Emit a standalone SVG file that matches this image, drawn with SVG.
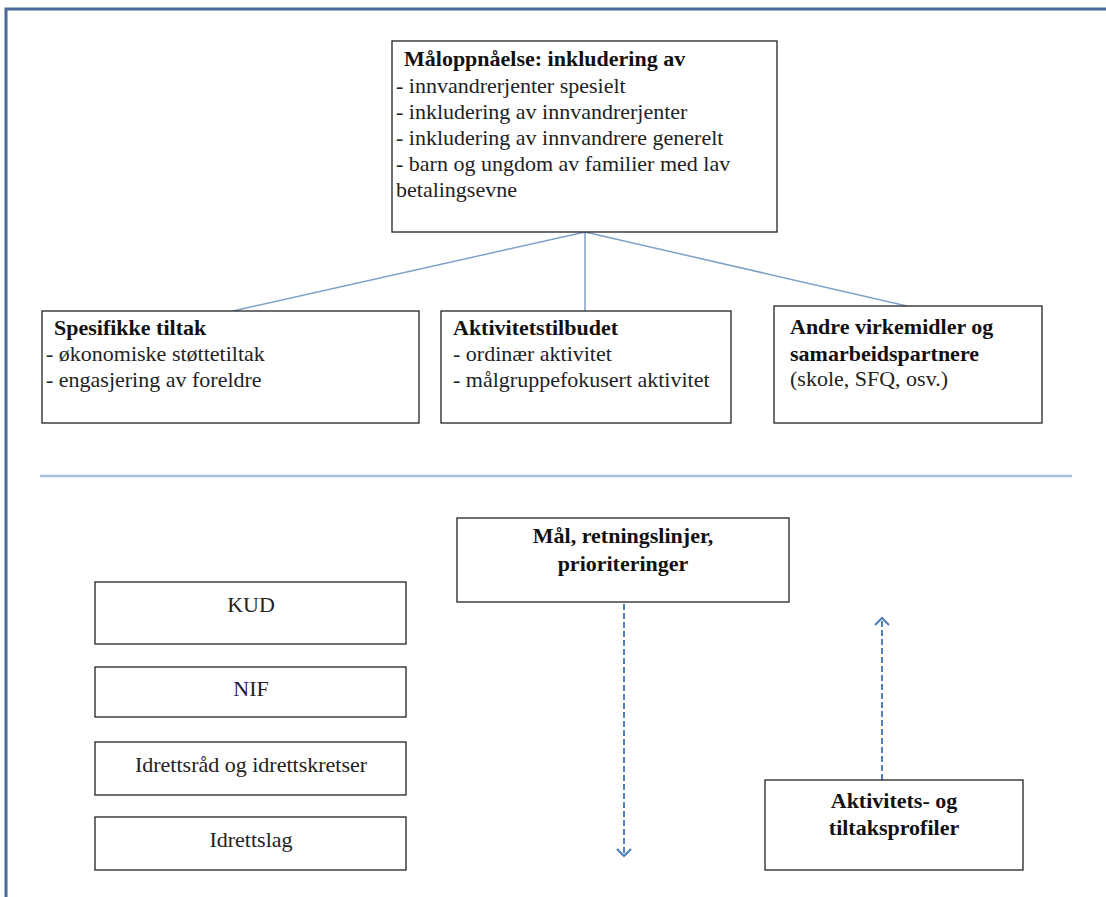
<svg xmlns="http://www.w3.org/2000/svg" width="1106" height="897" viewBox="0 0 1106 897">
<style>
.box{fill:#fff;stroke:#222;stroke-width:1.3}
.t{font-family:'Liberation Serif','Times New Roman','DejaVu Serif',serif;font-size:22px;fill:#222}
.b{font-weight:bold;fill:#111}
.c{text-anchor:middle}
.ln{stroke:#7fa0c8;stroke-width:1.5;fill:none}
.dash{stroke:#4f7fbf;stroke-width:2;stroke-dasharray:6 3;fill:none}
</style>
<defs>
<marker id="ah" viewBox="0 0 14 16" refX="8" refY="8" markerWidth="14" markerHeight="16" markerUnits="userSpaceOnUse" orient="auto">
<path d="M1,1 L8,8 L1,15" fill="none" stroke="#4f7fbf" stroke-width="2.2"/>
</marker>
</defs>
<rect width="1106" height="897" fill="#fff"/>
<path d="M6,897 V9 H1106" fill="none" stroke="#4a6899" stroke-width="3"/>
<g id="connectors">
<line class="ln" x1="585" y1="232" x2="233" y2="311"/>
<line class="ln" x1="585" y1="232" x2="585" y2="311"/>
<line class="ln" x1="585" y1="232" x2="907" y2="306"/>
<line x1="40" y1="476" x2="1072" y2="476" stroke="#a9c0dc" stroke-width="2.5"/>
<line class="dash" x1="624" y1="604" x2="624" y2="856" marker-end="url(#ah)"/>
<line class="dash" x1="882" y1="780" x2="882" y2="618" marker-end="url(#ah)"/>
</g>
<g id="maal">
<rect class="box" x="392" y="41" width="385" height="191"/>
<text class="t b" x="404" y="66">Måloppnåelse: inkludering av</text>
<text class="t" x="396" y="93">- innvandrerjenter spesielt</text>
<text class="t" x="396" y="119">- inkludering av innvandrerjenter</text>
<text class="t" x="396" y="145">- inkludering av innvandrere generelt</text>
<text class="t" x="396" y="171">- barn og ungdom av familier med lav</text>
<text class="t" x="396" y="197">betalingsevne</text>
</g>
<g id="spesifikke">
<rect class="box" x="42" y="311" width="377" height="112"/>
<text class="t b" x="54" y="335">Spesifikke tiltak</text>
<text class="t" x="46" y="361">- økonomiske støttetiltak</text>
<text class="t" x="46" y="387">- engasjering av foreldre</text>
</g>
<g id="aktivitetstilbudet">
<rect class="box" x="441" y="311" width="290" height="112"/>
<text class="t b" x="453" y="335">Aktivitetstilbudet</text>
<text class="t" x="453" y="361">- ordinær aktivitet</text>
<text class="t" x="453" y="387">- målgruppefokusert aktivitet</text>
</g>
<g id="andre">
<rect class="box" x="774" y="306" width="268" height="117"/>
<text class="t b" x="790" y="334">Andre virkemidler og</text>
<text class="t b" x="790" y="361">samarbeidspartnere</text>
<text class="t" x="790" y="386">(skole, SFQ, osv.)</text>
</g>
<g id="maal-retning">
<rect class="box" x="457" y="518" width="332" height="84"/>
<text class="t b c" x="623" y="543">Mål, retningslinjer,</text>
<text class="t b c" x="623" y="571">prioriteringer</text>
</g>
<g id="kud">
<rect class="box" x="95" y="582" width="311" height="62"/>
<text class="t c" x="251" y="612">KUD</text>
</g>
<g id="nif">
<rect class="box" x="95" y="667" width="311" height="50"/>
<text class="t c" x="251" y="696">NIF</text>
</g>
<g id="idrettsraad">
<rect class="box" x="95" y="742" width="311" height="53"/>
<text class="t c" x="251" y="772">Idrettsråd og idrettskretser</text>
</g>
<g id="idrettslag">
<rect class="box" x="95" y="817" width="311" height="53"/>
<text class="t c" x="251" y="847">Idrettslag</text>
</g>
<g id="profiler">
<rect class="box" x="765" y="780" width="258" height="90"/>
<text class="t b c" x="894" y="808">Aktivitets- og</text>
<text class="t b c" x="894" y="835">tiltaksprofiler</text>
</g>
</svg>
